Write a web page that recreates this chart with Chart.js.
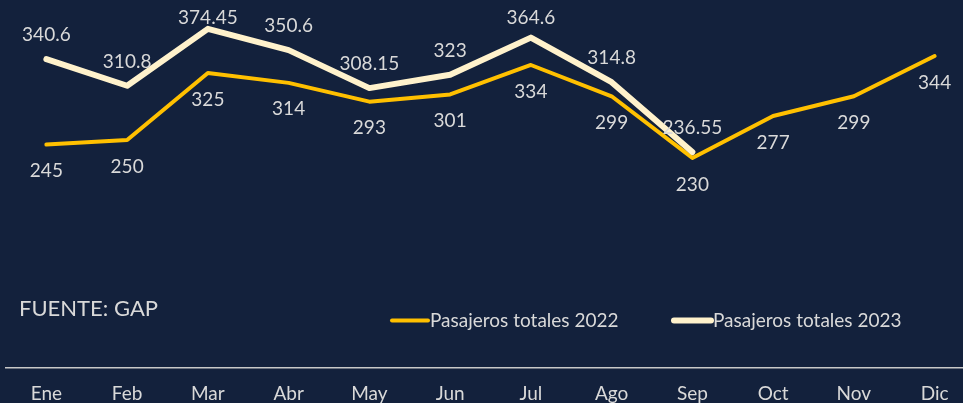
<!DOCTYPE html>
<html>
<head>
<meta charset="utf-8">
<script src="https://cdn.jsdelivr.net/npm/chart.js@4.4.1/dist/chart.umd.min.js"></script>
<style>
  html, body { margin: 0; padding: 0; background: #13213c; overflow: hidden; }
  #wrap { position: relative; width: 982px; height: 420px; }
</style>
</head>
<body>
<div id="wrap"><canvas id="paxChart"></canvas></div>
<script>
const months = ['Ene', 'Feb', 'Mar', 'Abr', 'May', 'Jun', 'Jul', 'Ago', 'Sep', 'Oct', 'Nov', 'Dic'];
const pax2022 = [245, 250, 325, 314, 293, 301, 334, 299, 230, 277, 299, 344];
const pax2023 = [340.6, 310.8, 374.45, 350.6, 308.15, 323, 364.6, 314.8, 236.55];
const seriesNames = ['Pasajeros totales 2022', 'Pasajeros totales 2023'];
const sourceNote = 'FUENTE: GAP';

const FONT = 'Lato, "Open Sans", sans-serif';
const TEXT = '#d9d9d9';
const GOLD = '#ffc000';
const CREAM = '#fff2cc';

// value labels: 2022 under the points, 2023 above them
const valueLabels = {
  id: 'valueLabels',
  afterDatasetsDraw(chart) {
    const ctx = chart.ctx;
    ctx.save();
    ctx.font = '19px ' + FONT;
    ctx.fillStyle = TEXT;
    ctx.textAlign = 'center';
    ctx.textBaseline = 'middle';
    chart.data.datasets.forEach((ds, i) => {
      const meta = chart.getDatasetMeta(i);
      meta.data.forEach((pt, j) => {
        let y = ds.labelPos === 'below' ? pt.y + 26.5 : pt.y - 24;
        if (y < 18) y = 18;
        ctx.fillText(String(ds.data[j]), pt.x, y);
      });
    });
    ctx.restore();
  },
};

// source note + legend drawn inside the plot
const extras = {
  id: 'extras',
  afterDraw(chart) {
    const ctx = chart.ctx;
    ctx.save();
    ctx.fillStyle = TEXT;
    ctx.font = '22px ' + FONT;
    ctx.textBaseline = 'alphabetic';
    ctx.fillText(sourceNote, 19, 316);

    const items = [
      { x0: 392, x1: 428, tx: 430 },
      { x0: 674, x1: 711, tx: 713 },
    ];
    ctx.font = '19px ' + FONT;
    ctx.textBaseline = 'middle';
    chart.data.datasets.forEach((ds, i) => {
      const it = items[i];
      ctx.strokeStyle = ds.borderColor;
      ctx.lineWidth = ds.borderWidth;
      ctx.lineCap = 'round';
      ctx.beginPath();
      ctx.moveTo(it.x0, 320.5);
      ctx.lineTo(it.x1, 320.5);
      ctx.stroke();
      ctx.fillStyle = TEXT;
      ctx.fillText(ds.label, it.tx, 320.5);
    });
    ctx.restore();
  },
};

new Chart(document.getElementById('paxChart'), {
  type: 'line',
  data: {
    labels: months,
    datasets: [
      {
        label: seriesNames[0],
        data: pax2022,
        borderColor: GOLD,
        borderWidth: 4,
        pointRadius: 0,
        tension: 0,
        order: 1,
        labelPos: 'below',
      },
      {
        label: seriesNames[1],
        data: pax2023,
        borderColor: CREAM,
        borderWidth: 6,
        pointRadius: 0,
        tension: 0,
        order: 0,
        labelPos: 'above',
      },
    ],
  },
  options: {
    responsive: true,
    maintainAspectRatio: false,
    animation: false,
    layout: { padding: { top: 6, left: 6, right: 7, bottom: 0 } },
    elements: { line: { borderJoinStyle: 'round', borderCapStyle: 'round' } },
    plugins: {
      legend: { display: false },
      tooltip: { enabled: false },
    },
    scales: {
      x: {
        offset: true,
        grid: { display: false, drawTicks: false },
        border: { display: true, color: '#c8c8c8', width: 1.5 },
        ticks: { color: TEXT, font: { family: FONT, size: 19 }, padding: 14 },
        afterFit: (s) => { s.height = 52; },
      },
      y: {
        display: false,
        min: -5,
        max: 400,
      },
    },
  },
  plugins: [valueLabels, extras],
});
</script>
</body>
</html>
